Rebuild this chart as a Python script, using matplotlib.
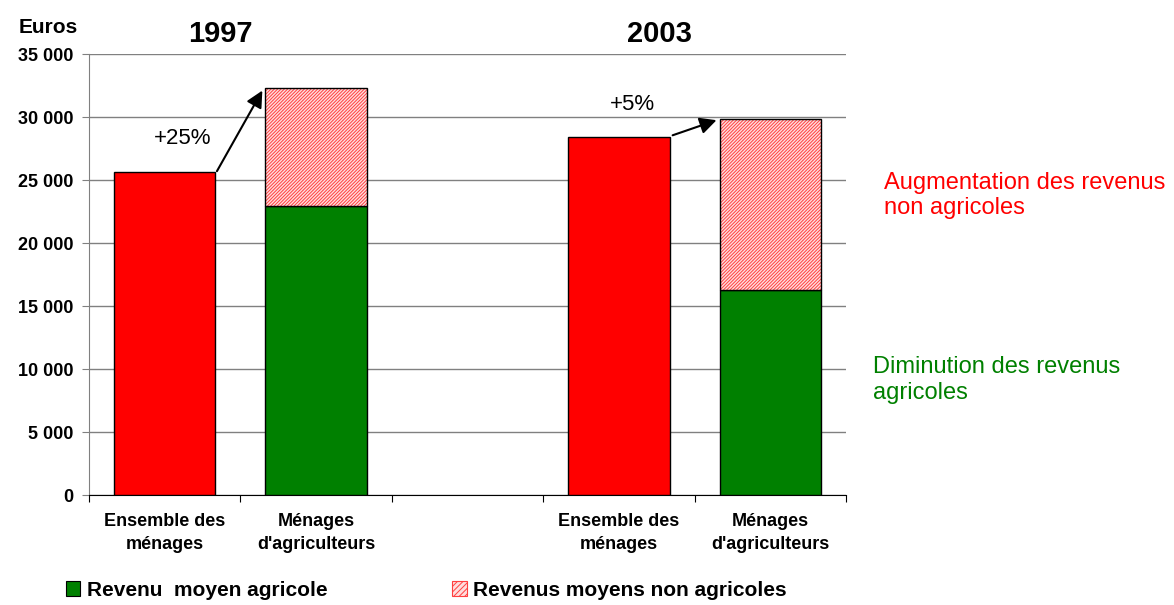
import matplotlib
matplotlib.use("Agg")
import matplotlib.pyplot as plt
from matplotlib import font_manager
from matplotlib.patches import Patch

# Données (euros)
categories = ["Ensemble des\nménages", "Ménages\nd'agriculteurs", "",
              "Ensemble des\nménages", "Ménages\nd'agriculteurs"]
ensemble = [25600, 0, 0, 28400, 0]
agricole = [0, 22900, 0, 0, 16300]
non_agricole = [0, 9400, 0, 0, 13550]
annees = ["1997", "2003"]
hausses = ["+25%", "+5%"]
yticks = [0, 5000, 10000, 15000, 20000, 25000, 30000, 35000]

noms = [f.name for f in font_manager.fontManager.ttflist]
police = "Liberation Sans" if "Liberation Sans" in noms else "DejaVu Sans"
etroite = "Liberation Sans Narrow" if "Liberation Sans Narrow" in noms else police
plt.rcParams["font.family"] = police
plt.rcParams["hatch.linewidth"] = 0.7

rouge = "#ff0000"
vert = "#008000"
rose = "#ffdede"

fig = plt.figure(figsize=(11.74, 6.05), dpi=100)
ax = fig.add_axes([0.0758, 0.1818, 0.6448, 0.7289])

w = 0.67
# on ne trace que les barres non nulles
i_ens = [i for i, v in enumerate(ensemble) if v > 0]
i_agr = [i for i, v in enumerate(agricole) if v > 0]
ax.bar(i_ens, [ensemble[i] for i in i_ens], w, color=rouge, edgecolor="black",
       linewidth=1.0, zorder=3)
ax.bar(i_agr, [agricole[i] for i in i_agr], w, color=vert, edgecolor="black",
       linewidth=1.0, zorder=3)
ax.bar(i_agr, [non_agricole[i] for i in i_agr], w,
       bottom=[agricole[i] for i in i_agr], color=rose, edgecolor="#ff4040",
       hatch="//////////", linewidth=0, zorder=3)
ax.bar(i_agr, [non_agricole[i] for i in i_agr], w,
       bottom=[agricole[i] for i in i_agr], fill=False, edgecolor="black",
       linewidth=1.0, zorder=4)

ax.set_xlim(-0.5, len(categories) - 0.5)
ax.set_ylim(0, 35000)
ax.set_yticks(yticks)
ax.set_yticklabels([f"{v:,}".replace(",", " ") for v in yticks],
                   fontsize=13, fontweight="bold")
ax.yaxis.grid(True, color="#808080", linewidth=1.0, zorder=0)
ax.set_axisbelow(True)

ax.set_xticks([i - 0.5 for i in range(len(categories) + 1)])
ax.set_xticklabels([])
ax.tick_params(axis="x", length=5, color="black", direction="out")
ax.tick_params(axis="y", length=5, color="#808080", direction="out", pad=6)
for i, lab in enumerate(categories):
    ax.text(i, -1400, lab, ha="center", va="top", fontsize=13,
            fontweight="bold", family=etroite, linespacing=1.45)

for s in ["top", "right"]:
    ax.spines[s].set_visible(False)
ax.spines["left"].set_color("#808080")
ax.spines["bottom"].set_color("black")

# titres des années
ax.text(0.37, 36600, annees[0], ha="center", va="center", fontsize=21,
        fontweight="bold")
ax.text(3.27, 36600, annees[1], ha="center", va="center", fontsize=21,
        fontweight="bold")
fig.text(0.041, 0.955, "Euros", ha="center", va="center", fontsize=15,
         fontweight="bold")

# flèches de hausse
tot_agri = [a + b for a, b in zip(agricole, non_agricole)]
ax.annotate("", xy=(1 - w / 2 - 0.02, tot_agri[1] - 200),
            xytext=(w / 2 + 0.01, ensemble[0] + 100),
            arrowprops=dict(arrowstyle="-|>", color="black", lw=1.5,
                            mutation_scale=25, shrinkA=0, shrinkB=0))
ax.text(0.12, 28300, hausses[0], ha="center", va="center", fontsize=16)
ax.annotate("", xy=(4 - w / 2 - 0.02, tot_agri[4] - 100),
            xytext=(3 + w / 2 + 0.02, ensemble[3] + 150),
            arrowprops=dict(arrowstyle="-|>", color="black", lw=1.5,
                            mutation_scale=25, shrinkA=0, shrinkB=0))
ax.text(3.09, 31000, hausses[1], ha="center", va="center", fontsize=16)

# commentaires à droite
fig.text(0.753, 0.677, "Augmentation des revenus\nnon agricoles", color=rouge,
         fontsize=17, ha="left", va="center", linespacing=1.15)
fig.text(0.744, 0.372, "Diminution des revenus\nagricoles", color=vert,
         fontsize=17, ha="left", va="center", linespacing=1.2)

# légende
poignees = [Patch(facecolor=vert, edgecolor="black", linewidth=0.8),
            Patch(facecolor=rose, edgecolor="#ff4040", hatch="//////",
                  linewidth=0.8)]
fig.legend(poignees, ["Revenu  moyen agricole", "Revenus moyens non agricoles"],
           loc="lower left", bbox_to_anchor=(0.040, -0.022), ncol=2,
           frameon=False, handlelength=0.7, handleheight=0.7,
           handletextpad=0.3, columnspacing=6.0,
           prop={"family": etroite, "weight": "bold", "size": 15})

fig.savefig("out.png", dpi=100)
